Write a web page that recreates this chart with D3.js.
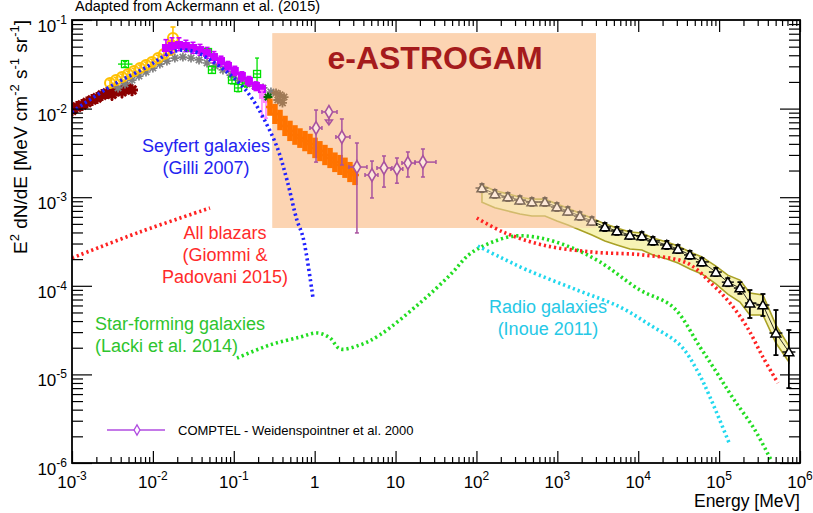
<!DOCTYPE html>
<html><head><meta charset="utf-8">
<script src="https://cdn.jsdelivr.net/npm/d3@7"></script>
<style>body{margin:0;background:#fff}svg{display:block}text{font-family:"Liberation Sans",Arial,Helvetica,sans-serif}</style>
</head><body><svg id="c" width="813" height="513"></svg>
<script>
// ---------------- data ----------------
const title = "Adapted from Ackermann et al. (2015)";
const xTickVals = [1e-3,1e-2,1e-1,1,10,1e2,1e3,1e4,1e5,1e6];
const xTickBase = ["10","10","10","1","10","10","10","10","10","10"];
const xTickExp  = ["-3","-2","-1","","","2","3","4","5","6"];
const yTickVals = [1e-6,1e-5,1e-4,1e-3,1e-2,1e-1];
const yTickBase = ["10","10","10","10","10","10"];
const yTickExp  = ["-6","-5","-4","-3","-2","-1"];

// e-ASTROGAM region
const astroE = [0.3, 3000];
const astroV = [4.5e-4, 7.1e-2];

// model curves
const seyE = [1e-3,3.2e-3,8.4e-3,1.63e-2,2.49e-2,3.61e-2,5.08e-2,8.24e-2,0.130,0.173,0.230,0.342,0.455,0.604,0.716,0.953];
const seyV = [9.2e-3,1.85e-2,2.95e-2,4.25e-2,4.58e-2,4.25e-2,3.54e-2,2.59e-2,1.754e-2,1.25e-2,8.0e-3,3.69e-3,1.56e-3,5.5e-4,3.56e-4,7.3e-5];
const blzLowE = [1e-3,6.9e-3,5.08e-2];
const blzLowV = [2.06e-4,4.05e-4,7.55e-4];
const blzHighE = [101,213,664,2754,1.14e4,4.0e4,8.4e4,1.36e5,2.21e5,3.48e5,5.33e5];
const blzHighV = [5.82e-4,4.05e-4,2.88e-4,2.40e-4,2.23e-4,1.81e-4,1.02e-4,6.4e-5,3.43e-5,1.57e-5,8.0e-6];
const sfE = [0.1096,0.280,0.658,1.10,1.55,2.06,3.63,6.4,20,47,83,147,299,610,1432,3365,1.05e4,2.69e4,5.8e4,9.4e4,1.48e5,2.77e5,4.5e5];
const sfV = [1.53e-5,2.15e-5,2.64e-5,2.93e-5,2.57e-5,1.94e-5,2.15e-5,2.79e-5,6.4e-5,1.32e-4,2.29e-4,3.04e-4,3.65e-4,3.47e-4,2.74e-4,1.86e-4,8.97e-5,5.77e-5,2.04e-5,1.04e-5,5.42e-6,2.36e-6,1.03e-6];
const rgE = [104,195,421,1746,5940,1.40e4,3.28e4,5.32e4,7.7e4,1.36e5];
const rgV = [2.81e-4,2.11e-4,1.51e-4,8.97e-5,5.77e-5,3.61e-5,2.15e-5,1.12e-5,5.56e-6,1.6e-6];

// Fermi-LAT EGB
const fermiE  = [117,169,245,345,485,703,989,1352,1901,2679,3873,5458,7889,1.11e4,1.52e4,2.26e4,3.10e4,4.36e4,6.12e4,9.12e4,1.28e5,1.81e5,2.40e5,3.48e5,5.04e5,7.29e5];
const fermiV  = [1.27e-3,1.09e-3,1.005e-3,9.29e-4,8.82e-4,8.82e-4,7.75e-4,6.98e-4,6.13e-4,5.38e-4,4.61e-4,4.16e-4,3.74e-4,3.65e-4,3.21e-4,2.89e-4,2.60e-4,2.23e-4,1.86e-4,1.43e-4,1.10e-4,9.44e-5,6.39e-5,6.07e-5,2.93e-5,1.79e-5];
const fermiHi = [1.41e-3,1.21e-3,1.12e-3,1.03e-3,9.8e-4,9.8e-4,8.6e-4,7.75e-4,6.8e-4,5.97e-4,5.12e-4,4.62e-4,4.15e-4,4.05e-4,3.56e-4,3.21e-4,2.89e-4,2.48e-4,2.06e-4,1.59e-4,1.22e-4,1.10e-4,8.96e-5,8.08e-5,5.33e-5,3.17e-5];
const fermiLo = [1.14e-3,9.8e-4,9.05e-4,8.37e-4,7.95e-4,7.95e-4,6.98e-4,6.29e-4,5.52e-4,4.85e-4,4.15e-4,3.75e-4,3.37e-4,3.29e-4,2.89e-4,2.60e-4,2.34e-4,2.01e-4,1.68e-4,1.29e-4,9.9e-5,8.1e-5,4.33e-5,4.56e-5,1.65e-5,7.0e-6];
const bandHi  = [1.37e-3,1.18e-3,1.09e-3,1.00e-3,9.5e-4,9.5e-4,8.4e-4,7.5e-4,6.6e-4,5.8e-4,5.0e-4,4.5e-4,4.04e-4,3.95e-4,3.47e-4,3.12e-4,2.81e-4,2.41e-4,2.12e-4,1.67e-4,1.32e-4,1.16e-4,8.3e-5,7.9e-5,3.6e-5,2.09e-5];
const bandLo  = [8.8e-4,7.6e-4,6.98e-4,6.46e-4,6.13e-4,6.13e-4,5.39e-4,4.85e-4,4.26e-4,3.74e-4,3.20e-4,2.89e-4,2.60e-4,2.54e-4,2.23e-4,2.01e-4,1.81e-4,1.55e-4,1.36e-4,1.05e-4,8.05e-5,6.56e-5,4.68e-5,4.68e-5,2.26e-5,1.38e-5];

// low-energy measurements
const darkredE = [1.0e-3,1.15e-3,1.33e-3,1.53e-3,1.77e-3,2.04e-3,2.35e-3,2.71e-3,3.12e-3,3.60e-3,4.15e-3,4.79e-3,5.52e-3];
const darkredV = [9.6e-3,1.04e-2,1.1e-2,1.17e-2,1.25e-2,1.32e-2,1.42e-2,1.5e-2,1.45e-2,1.6e-2,1.55e-2,1.7e-2,1.62e-2];
const darkredHi = [1.08e-2,1.17e-2,1.24e-2,1.32e-2,1.41e-2,1.49e-2,1.6e-2,1.69e-2,1.75e-2,1.8e-2,1.85e-2,1.92e-2,1.9e-2];
const darkredLo = [8.5e-3,9.2e-3,9.8e-3,1.04e-2,1.11e-2,1.17e-2,1.26e-2,1.33e-2,1.22e-2,1.42e-2,1.3e-2,1.51e-2,1.38e-2];
const goldE  = [2.95e-3,3.50e-3,4.15e-3,4.92e-3,5.84e-3,6.93e-3,8.22e-3,9.75e-3,1.16e-2,1.37e-2,1.63e-2,1.70e-2,1.77e-2];
const goldV  = [1.95e-2,2.10e-2,2.27e-2,2.46e-2,2.66e-2,2.87e-2,3.10e-2,3.36e-2,3.72e-2,4.13e-2,4.58e-2,5.2e-2,6.26e-2];
const goldHi = [2.1e-2,2.25e-2,2.45e-2,2.65e-2,2.85e-2,3.1e-2,3.35e-2,3.6e-2,4.0e-2,4.5e-2,5.0e-2,5.8e-2,8.34e-2];
const goldLo = [1.8e-2,1.95e-2,2.1e-2,2.28e-2,2.47e-2,2.65e-2,2.87e-2,3.1e-2,3.45e-2,3.8e-2,4.2e-2,4.7e-2,4.83e-2];
const grayE = [3.71e-3,4.52e-3,5.52e-3,6.73e-3,8.22e-3,1.0e-2,1.22e-2,1.49e-2,1.87e-2,2.35e-2,2.96e-2,3.72e-2,4.67e-2,5.86e-2,7.35e-2,9.23e-2,0.116,0.146,0.183,0.230,0.288];
const grayV = [1.71e-2,1.90e-2,2.10e-2,2.33e-2,2.59e-2,2.87e-2,3.18e-2,3.44e-2,3.72e-2,3.82e-2,3.72e-2,3.54e-2,3.27e-2,3.03e-2,2.73e-2,2.39e-2,2.10e-2,1.90e-2,1.80e-2,1.71e-2,1.54e-2];
const greenE  = [4.52e-3,2.72e-2,4.80e-2,5.37e-2,9.50e-2,0.113,0.142,0.194];
const greenV  = [3.18e-2,4.83e-2,4.35e-2,2.73e-2,2.10e-2,1.71e-2,1.95e-2,2.46e-2];
const greenHi = [3.4e-2,5.2e-2,4.7e-2,3.0e-2,2.35e-2,1.9e-2,2.2e-2,3.72e-2];
const greenLo = [2.95e-2,4.5e-2,4.0e-2,2.5e-2,1.9e-2,1.55e-2,1.75e-2,1.71e-2];
const greenELo = [3.7e-3,2.45e-2,4.3e-2,4.9e-2,8.7e-2,0.104,0.13,0.178];
const greenEHi = [5.6e-3,3.0e-2,5.3e-2,5.9e-2,0.104,0.124,0.155,0.212];
const magentaE  = [1.45e-2,1.72e-2,2.10e-2,2.56e-2,3.13e-2,3.82e-2,4.67e-2,5.69e-2,6.95e-2,8.48e-2,0.103,0.126,0.154,0.188,0.223];
const magentaV  = [4.83e-2,5.09e-2,5.22e-2,5.09e-2,4.83e-2,4.58e-2,4.25e-2,3.82e-2,3.44e-2,3.03e-2,2.66e-2,2.33e-2,2.05e-2,1.80e-2,1.66e-2];
const magentaHi = [6.0e-2,6.3e-2,6.3e-2,5.9e-2,5.6e-2,5.3e-2,4.9e-2,4.4e-2,3.9e-2,3.4e-2,3.0e-2,2.6e-2,2.3e-2,2.0e-2,1.85e-2];
const magentaLo = [4.0e-2,4.3e-2,4.5e-2,4.4e-2,4.2e-2,4.0e-2,3.7e-2,3.3e-2,3.0e-2,2.65e-2,2.35e-2,2.05e-2,1.8e-2,1.6e-2,1.48e-2];
const pinkE = [0.223,0.250];
const pinkV = [1.39e-2,1.25e-2];
const pinkHi = [1.6e-2,1.45e-2];
const pinkLo = [8.0e-3,7.8e-3];
const dkgreenE = [0.265];
const dkgreenV = [1.35e-2];
const brownE = [0.333,0.373,0.418,0.350,0.400];
const brownV = [1.50e-2,1.43e-2,1.35e-2,1.25e-2,1.16e-2];
const orangeE  = [0.280,0.323,0.373,0.430,0.495,0.571,0.658,0.759,0.875,1.01,1.16,1.34,1.55,1.78,2.06,2.37,2.73,3.15];
const orangeV  = [1.04e-2,8.69e-3,7.43e-3,6.37e-3,5.59e-3,5.03e-3,4.66e-3,4.31e-3,3.98e-3,3.59e-3,3.32e-3,2.99e-3,2.77e-3,2.49e-3,2.31e-3,2.14e-3,1.92e-3,1.78e-3];
const orangeHi = [1.3e-2,1.13e-2,9.7e-3,8.3e-3,7.3e-3,6.5e-3,6.0e-3,5.6e-3,5.2e-3,4.7e-3,4.3e-3,3.9e-3,3.6e-3,3.2e-3,3.0e-3,2.8e-3,2.5e-3,2.3e-3];
const orangeLo = [8.3e-3,6.7e-3,5.7e-3,4.9e-3,4.3e-3,3.9e-3,3.6e-3,3.3e-3,3.06e-3,2.76e-3,2.55e-3,2.3e-3,2.13e-3,1.92e-3,1.78e-3,1.65e-3,1.48e-3,1.37e-3];

// COMPTEL (Weidenspointner et al. 2000)
const comptelE   = [1.04,1.50,2.17,3.33,5.11,7.19,10.4,14.2,21.8];
const comptelELo = [0.875,1.23,1.83,2.65,4.19,5.89,8.77,12.0,17.4];
const comptelEHi = [1.23,1.89,2.73,4.43,6.06,9.02,12.3,17.4,31.6];
const comptelV   = [6.04e-3,9.17e-3,4.78e-3,2.19e-3,1.78e-3,2.14e-3,2.08e-3,2.43e-3,2.49e-3];
const comptelHi  = [9.64e-3,null,7.64e-3,4.09e-3,2.56e-3,2.92e-3,2.77e-3,3.24e-3,3.50e-3];
const comptelLo  = [2.49e-3,null,2.31e-3,3.95e-4,9.8e-4,1.30e-3,1.44e-3,1.69e-3,1.69e-3];
const comptelUL  = [false,true,false,false,false,false,false,false,false];

// ---------------- drawing ----------------
const L=72, R=800, T=20, B=463;
const x = d3.scaleLog().domain([1e-3,1e6]).range([L,R]);
const y = d3.scaleLog().domain([1e-6,1e-1]).range([B,T]);
const svg = d3.select('#c');
svg.append('rect').attr('width',813).attr('height',513).attr('fill','#fff');
svg.append('defs').append('clipPath').attr('id','pc').append('rect')
  .attr('x',L).attr('y',T).attr('width',R-L).attr('height',B-T);
const plot = svg.append('g').attr('clip-path','url(#pc)');

const PEACH = '#fcd4b2';
const boxRect = g => g.append('rect')
  .attr('x',x(astroE[0])).attr('y',y(astroV[1]))
  .attr('width',x(astroE[1])-x(astroE[0])).attr('height',y(astroV[0])-y(astroV[1]))
  .attr('fill',PEACH);
boxRect(plot);

function idx(n){return d3.range(n);}
function asterisk(r){const a=r*0.7071;return `M${-r},0L${r},0M0,${-r}L0,${r}M${-a},${-a}L${a},${a}M${-a},${a}L${a},${-a}`;}
function vbars(g,E,lo,hi,color,w,cap){
  idx(E.length).forEach(i=>{
    if(lo[i]==null) return;
    const cx=x(E[i]);
    g.append('line').attr('x1',cx).attr('x2',cx).attr('y1',y(lo[i])).attr('y2',y(hi[i]))
      .attr('stroke',color).attr('stroke-width',w);
    if(cap){[lo[i],hi[i]].forEach(v=>g.append('line').attr('x1',cx-cap).attr('x2',cx+cap)
      .attr('y1',y(v)).attr('y2',y(v)).attr('stroke',color).attr('stroke-width',w));}
  });
}
function binEdges(E){ // geometric midpoints between neighbouring energies
  const lo=[],hi=[];
  for(let i=0;i<E.length;i++){
    const prev=i>0?E[i-1]:E[i]*E[i]/E[i+1], next=i<E.length-1?E[i+1]:E[i]*E[i]/E[i-1];
    lo.push(Math.sqrt(prev*E[i])); hi.push(Math.sqrt(next*E[i]));
  }
  return [lo,hi];
}

// Fermi band
const fermiIdx = idx(fermiE.length);
plot.append('path').datum(fermiIdx)
  .attr('d',d3.area().x(i=>x(fermiE[i])).y0(i=>y(bandLo[i])).y1(i=>y(bandHi[i])))
  .attr('fill','#f7f3b4').attr('stroke','#a9a126').attr('stroke-width',1.6);
plot.append('path').datum(fermiIdx)
  .attr('d',d3.line().x(i=>x(fermiE[i])).y(i=>y(fermiV[i])))
  .attr('fill','none').attr('stroke','#000').attr('stroke-width',0.8);
const fg = plot.append('g');
const [fElo,fEhi] = binEdges(fermiE);
fermiIdx.forEach(i=>{
  fg.append('line').attr('x1',x(fElo[i])).attr('x2',x(fEhi[i])).attr('y1',y(fermiV[i])).attr('y2',y(fermiV[i]))
    .attr('stroke','#000').attr('stroke-width',1.4);
});
vbars(fg,fermiE,fermiLo,fermiHi,'#000',1.8,2.5);
fg.selectAll('path.tri').data(fermiIdx).join('path')
  .attr('transform',i=>`translate(${x(fermiE[i])},${y(fermiV[i])+1})`)
  .attr('d',d3.symbol(d3.symbolTriangle,42)()).attr('fill','#fff').attr('stroke','#000').attr('stroke-width',1.5);

// translucent part of the e-ASTROGAM region over Fermi data
boxRect(plot).attr('opacity',0.5);

// low energy data
function stars(E,V,color,r,w){
  plot.append('g').selectAll('path').data(idx(E.length)).join('path')
    .attr('transform',i=>`translate(${x(E[i])},${y(V[i])})`)
    .attr('d',asterisk(r)).attr('stroke',color).attr('stroke-width',w).attr('fill','none');
}
vbars(plot.append('g'),darkredE,darkredLo,darkredHi,'#8b0000',2,0);
stars(darkredE,darkredV,'#8b0000',6,3);
stars(grayE,grayV,'#808080',4.5,1.7);
// gold open circles
{
  const g=plot.append('g');
  vbars(g,goldE,goldLo,goldHi,'#ffc000',1.6,2.5);
  g.selectAll('circle').data(idx(goldE.length)).join('circle')
    .attr('cx',i=>x(goldE[i])).attr('cy',i=>y(goldV[i])).attr('r',5)
    .attr('fill','none').attr('stroke','#ffc000').attr('stroke-width',2);
}
// green open squares
{
  const g=plot.append('g');
  vbars(g,greenE,greenLo,greenHi,'#00e000',1.3,2);
  idx(greenE.length).forEach(i=>g.append('line').attr('x1',x(greenELo[i])).attr('x2',x(greenEHi[i]))
    .attr('y1',y(greenV[i])).attr('y2',y(greenV[i])).attr('stroke','#00e000').attr('stroke-width',1.3));
  g.selectAll('rect').data(idx(greenE.length)).join('rect')
    .attr('x',i=>x(greenE[i])-3.5).attr('y',i=>y(greenV[i])-3.5).attr('width',7).attr('height',7)
    .attr('fill','none').attr('stroke','#00e000').attr('stroke-width',1.3);
}
// magenta filled squares
{
  const g=plot.append('g');
  vbars(g,magentaE,magentaLo,magentaHi,'#cc00ff',1.6,2.5);
  g.selectAll('rect').data(idx(magentaE.length)).join('rect')
    .attr('x',i=>x(magentaE[i])-4).attr('y',i=>y(magentaV[i])-4).attr('width',8).attr('height',8)
    .attr('fill','#cc00ff');
}
// pink
{
  const g=plot.append('g');
  vbars(g,pinkE,pinkLo,pinkHi,'#ff80ff',1.5,2);
  g.selectAll('rect').data(idx(pinkE.length)).join('rect')
    .attr('x',i=>x(pinkE[i])-3).attr('y',i=>y(pinkV[i])-3).attr('width',6).attr('height',6).attr('fill','#ff80ff');
}
stars(dkgreenE,dkgreenV,'#006a00',4.5,2);
stars(brownE,brownV,'#a07a56',4.5,1.8);
// orange
{
  const g=plot.append('g');
  vbars(g,orangeE,orangeLo,orangeHi,'#ff7300',5.5,0);
  g.selectAll('path').data(idx(orangeE.length)).join('path')
    .attr('transform',i=>`translate(${x(orangeE[i])},${y(orangeV[i])})`)
    .attr('d','M-4,0L4,0M0,-4L0,4').attr('stroke','#ff7300').attr('stroke-width',2.5);
}
// COMPTEL
const CPT='#a8529f';
{
  const g=plot.append('g');
  idx(comptelE.length).forEach(i=>{
    const cy=y(comptelV[i]), cx=x(comptelE[i]);
    g.append('line').attr('x1',x(comptelELo[i])).attr('x2',x(comptelEHi[i])).attr('y1',cy).attr('y2',cy)
      .attr('stroke',CPT).attr('stroke-width',1.5);
    [comptelELo[i],comptelEHi[i]].forEach(e=>g.append('line').attr('x1',x(e)).attr('x2',x(e))
      .attr('y1',cy-2).attr('y2',cy+2).attr('stroke',CPT).attr('stroke-width',1.5));
    if(comptelUL[i]){
      g.append('line').attr('x1',cx).attr('x2',cx).attr('y1',cy).attr('y2',cy+12).attr('stroke',CPT).attr('stroke-width',1.5);
      g.append('path').attr('d',`M${cx-3.5},${cy+8}L${cx+3.5},${cy+8}L${cx},${cy+13}Z`).attr('fill','none').attr('stroke',CPT).attr('stroke-width',1.5);
    }
  });
  vbars(g,comptelE,comptelLo,comptelHi,CPT,1.5,2);
  g.selectAll('path.d').data(idx(comptelE.length)).join('path')
    .attr('transform',i=>`translate(${x(comptelE[i])},${y(comptelV[i])})`)
    .attr('d',d3.symbol(d3.symbolDiamond,48)()).attr('fill','#fde9dc').attr('stroke',CPT).attr('stroke-width',1.6);
}

// dotted model curves
function curve(E,V,color){
  plot.append('path').datum(idx(E.length))
    .attr('d',d3.line().x(i=>x(E[i])).y(i=>y(V[i])).curve(d3.curveCatmullRom.alpha(0.5)))
    .attr('fill','none').attr('stroke',color).attr('stroke-width',3.6).attr('stroke-dasharray','2.2,3');
}
curve(sfE,sfV,'#22dd22');
curve(rgE,rgV,'#22d8ee');
curve(blzLowE,blzLowV,'#ff2222');
curve(blzHighE,blzHighV,'#ff2222');
curve(seyE,seyV,'#2020ff');

// ---------------- axes ----------------
const minorVals = (lo,hi)=>{const a=[];for(let k=lo;k<hi;k++)for(let d=2;d<=9;d++)a.push(d*Math.pow(10,k));return a;};
const xMinor=minorVals(-3,6), yMinor=minorVals(-6,-1);
function ax(axis,tr){const g=svg.append('g').attr('transform',tr).call(axis);g.select('.domain').remove();
  g.selectAll('line').attr('stroke','#000').attr('stroke-width',1.2);g.selectAll('text').remove();}
ax(d3.axisBottom(x).tickValues(xTickVals).tickSizeInner(-12).tickSizeOuter(0),`translate(0,${B})`);
ax(d3.axisBottom(x).tickValues(xMinor).tickSizeInner(-6).tickSizeOuter(0),`translate(0,${B})`);
ax(d3.axisTop(x).tickValues(xTickVals).tickSizeInner(-12).tickSizeOuter(0),`translate(0,${T})`);
ax(d3.axisTop(x).tickValues(xMinor).tickSizeInner(-6).tickSizeOuter(0),`translate(0,${T})`);
ax(d3.axisLeft(y).tickValues(yTickVals).tickSizeInner(-20).tickSizeOuter(0),`translate(${L},0)`);
ax(d3.axisLeft(y).tickValues(yMinor).tickSizeInner(-11).tickSizeOuter(0),`translate(${L},0)`);
ax(d3.axisRight(y).tickValues(yTickVals).tickSizeInner(-20).tickSizeOuter(0),`translate(${R},0)`);
ax(d3.axisRight(y).tickValues(yMinor).tickSizeInner(-11).tickSizeOuter(0),`translate(${R},0)`);
svg.append('rect').attr('x',L).attr('y',T).attr('width',R-L).attr('height',B-T)
  .attr('fill','none').attr('stroke','#000').attr('stroke-width',1.8);

function supText(sel,base,exp,sfs,shift){
  sel.append('tspan').text(base);
  if(exp) sel.append('tspan').attr('dy',-shift).attr('font-size',sfs).text(exp);
}
xTickVals.forEach((v,i)=>{
  const t=svg.append('text').attr('x',x(v)).attr('y',488).attr('text-anchor','middle').attr('font-size',17);
  supText(t,xTickBase[i],xTickExp[i],12,8);
});
yTickVals.forEach((v,i)=>{
  const t=svg.append('text').attr('x',67).attr('y',y(v)+12).attr('text-anchor','end').attr('font-size',17);
  supText(t,yTickBase[i],yTickExp[i],12,8);
});
svg.append('text').attr('x',800).attr('y',507).attr('text-anchor','end').attr('font-size',17.5).text('Energy [MeV]');
{
  const t=svg.append('text').attr('transform','translate(27,137) rotate(-90)').attr('text-anchor','middle').attr('font-size',19);
  const parts=[['E',0],['2',1],[' dN/dE [MeV cm',0],['-2',1],[' s',0],['-1',1],[' sr',0],['-1',1],[']',0]];
  let up=false;
  parts.forEach(([s,sup])=>{
    const ts=t.append('tspan').text(s);
    if(sup){ts.attr('dy',-8).attr('font-size',13);up=true;}
    else if(up){ts.attr('dy',8);up=false;}
  });
}
svg.append('text').attr('x',75).attr('y',11).attr('font-size',14.5).text(title);

// annotations
svg.append('text').attr('x',435).attr('y',69).attr('text-anchor','middle').attr('font-size',32)
  .attr('font-weight','bold').attr('fill','#a51b1c').text('e-ASTROGAM');
function label(lines,xp,y0,color,anchor){
  lines.forEach((s,i)=>svg.append('text').attr('x',xp).attr('y',y0+i*22).attr('text-anchor',anchor)
    .attr('font-size',18).attr('fill',color).text(s));
}
label(['Seyfert galaxies','(Gilli 2007)'],206,152,'#2323f0','middle');
label(['All blazars','(Giommi &','Padovani 2015)'],225,239,'#ff2a2a','middle');
label(['Star-forming galaxies','(Lacki et al. 2014)'],95,330,'#2ec42e','start');
label(['Radio galaxies','(Inoue 2011)'],548,313,'#26c8e6','middle');

// legend
svg.append('line').attr('x1',107).attr('x2',165).attr('y1',430).attr('y2',430).attr('stroke','#b04ce0').attr('stroke-width',1.5);
svg.append('path').attr('transform','translate(137,430)').attr('d',d3.symbol(d3.symbolDiamond,30)())
  .attr('fill','#fff').attr('stroke','#b04ce0').attr('stroke-width',1.3);
svg.append('text').attr('x',178).attr('y',435).attr('font-size',13).text('COMPTEL - Weidenspointner et al. 2000');
</script></body></html>
